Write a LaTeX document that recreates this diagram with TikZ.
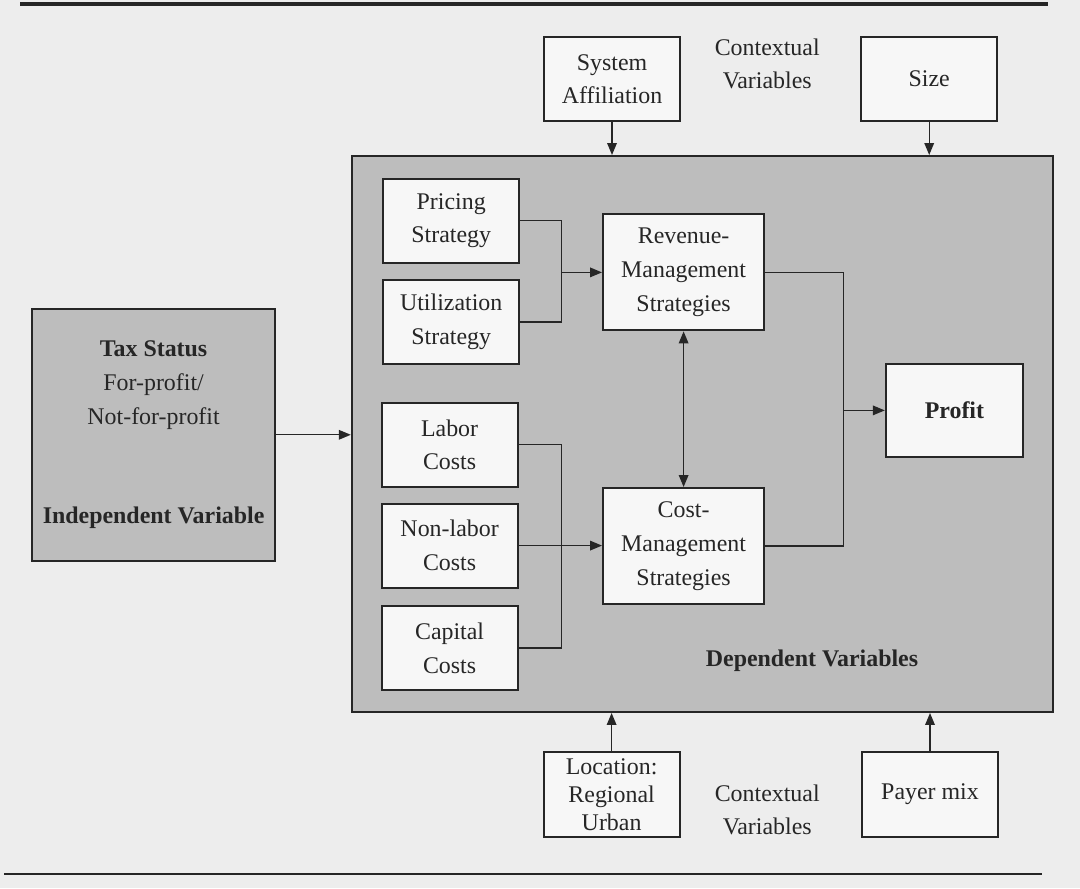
\documentclass[tikz,border=0pt]{standalone}
\usepackage{fontspec}
\setmainfont{Liberation Serif}
\usetikzlibrary{arrows.meta}
\definecolor{pagegray}{gray}{0.93}
\definecolor{boxwhite}{gray}{0.97}
\definecolor{depgray}{gray}{0.74}
\definecolor{inkgray}{gray}{0.15}
\tikzset{
	varbox/.style = {draw = inkgray, fill = boxwhite, line width = 1.4pt, minimum width = 3.4cm, minimum height = 2.1cm, inner sep = 0pt, align = center, text = inkgray, font = \fontsize{17}{24}\selectfont},
	stratbox/.style = {varbox, minimum width = 4.03cm, minimum height = 2.9cm},
	plaintext/.style = {align = center, text = inkgray, font = \fontsize{17}{24}\selectfont},
	link/.style = {draw = inkgray, line width = 1pt},
	flow/.style = {link, -{Triangle[length=3mm,width=2.4mm]}},
	twoway/.style = {link, {Triangle[length=3mm,width=2.4mm]}-{Triangle[length=3mm,width=2.4mm]}}
}

\begin{document}
\begin{tikzpicture}
				\fill [pagegray] (0,0) rectangle (27,22.2);
				\useasboundingbox (0,0) rectangle (27,22.2);
				\draw [inkgray, line width = 2.2pt] (0.5,22.1) -- (26.2,22.1);
				\draw [inkgray, line width = 2pt] (0.1,0.35) -- (26.05,0.35);
				\node [varbox] (sysaff) at (15.3,20.22) {System\\Affiliation};
				\node [plaintext] (ctxtop) at (19.18,20.6) {Contextual\\Variables};
				\node [varbox] (size) at (23.23,20.22) {Size};
				\node [varbox, fill = depgray, minimum width = 17.53cm, minimum height = 13.9cm] (dep) at (17.56,11.35) {};
				\node [varbox, fill = depgray, minimum width = 6.08cm, minimum height = 6.3cm] (tax) at (3.84,11.33) {\textbf{Tax Status}\\For-profit/\\Not-for-profit\\[1.65cm]\textbf{Independent Variable}};
				\node [varbox] (pricing) at (11.28,16.68) {Pricing\\Strategy};
				\node [varbox] (util) at (11.28,14.15) {Utilization\\Strategy};
				\node [varbox] (labor) at (11.24,11.08) {Labor\\Costs};
				\node [varbox] (nonlabor) at (11.24,8.56) {Non-labor\\Costs};
				\node [varbox] (capital) at (11.24,6.0) {Capital\\Costs};
				\node [stratbox] (revenue) at (17.09,15.39) {Revenue-\\Management\\Strategies};
				\node [stratbox] (cost) at (17.09,8.55) {Cost-\\Management\\Strategies};
				\node [varbox, minimum width = 3.43cm, minimum height = 2.33cm] (profit) at (23.86,11.94) {\textbf{Profit}};
				\node [plaintext] (deplabel) at (20.3,5.68) {\textbf{Dependent Variables}};
				\node [varbox, font = \fontsize{17}{20}\selectfont, minimum height = 2.13cm] (location) at (15.29,2.34) {Location:\\Regional\\Urban};
				\node [plaintext] (ctxbottom) at (19.18,1.95) {Contextual\\Variables};
				\node [varbox, minimum height = 2.13cm] (payer) at (23.25,2.34) {Payer mix};
				\coordinate (revjoin) at (14.03,15.39);
				\coordinate (costjoin) at (14.03,8.55);
				\coordinate (profjoin) at (21.08,11.94);
				\draw [flow] (sysaff.south) -- (sysaff.south |- dep.north);
				\draw [flow] (size.south) -- (size.south |- dep.north);
				\draw [flow] (location.north) -- (location.north |- dep.south);
				\draw [flow] (payer.north) -- (payer.north |- dep.south);
				\draw [flow] (tax.east) -- (tax.east -| dep.west);
				\draw [link] (pricing.east) -| (revjoin) |- (util.east);
				\draw [flow] (revjoin) -- (revenue.west);
				\draw [link] (labor.east) -| (costjoin) |- (capital.east);
				\draw [flow] (nonlabor.east) -- (nonlabor.east -| cost.west);
				\draw [twoway] (revenue.south) -- (cost.north);
				\draw [link] (revenue.east) -| (profjoin) |- (cost.east);
				\draw [flow] (profjoin) -- (profit.west);
\end{tikzpicture}
\end{document}
